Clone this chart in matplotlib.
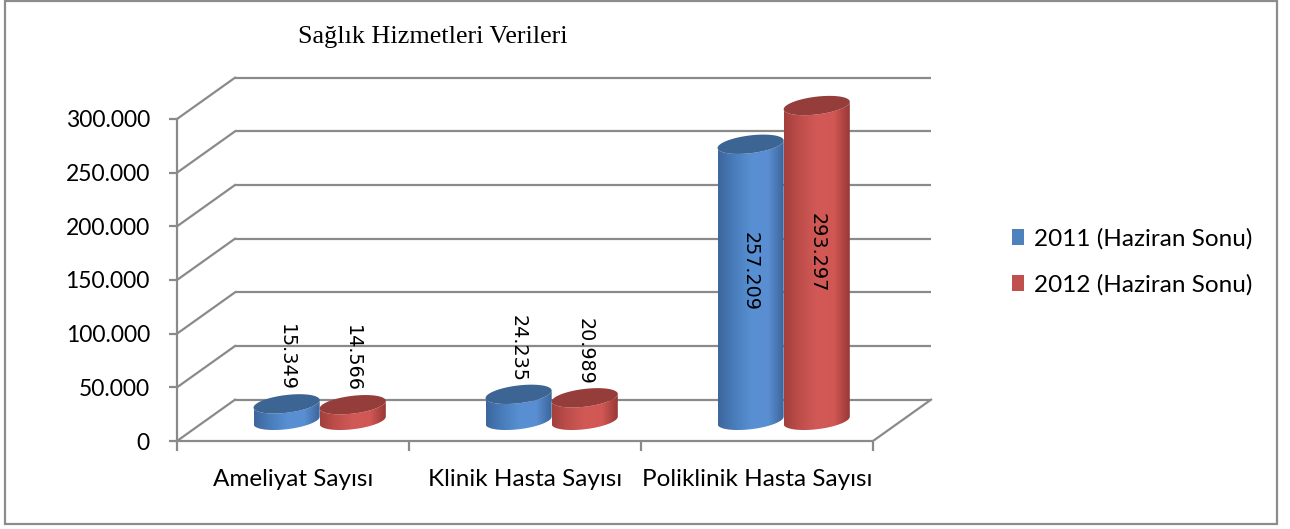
import numpy as np
import matplotlib
matplotlib.use("Agg")
import matplotlib.pyplot as plt
from matplotlib.patches import Polygon, Rectangle, Patch
from matplotlib.colors import LinearSegmentedColormap

# veriler
title = "Sağlık Hizmetleri Verileri"
categories = ["Ameliyat Sayısı", "Klinik Hasta Sayısı", "Poliklinik Hasta Sayısı"]
series_names = ["2011 (Haziran Sonu)", "2012 (Haziran Sonu)"]
values_2011 = [15349, 24235, 257209]
values_2012 = [14566, 20989, 293297]
y_ticks = [0, 50000, 100000, 150000, 200000, 250000, 300000]

# 3B görünüm ayarları
DX = 0.25        # derinlik (kategori birimi)
DY = 38500       # derinlik (değer birimi)
BAR_W = 0.285
ELL_B = 8300
TILT = 3500
BASE = DY / 2
GRID = "#8a8a8a"

blue_cm = LinearSegmentedColormap.from_list("b", ["#3d669c", "#4a7dbc", "#5890d3", "#5a8fd2", "#3a6297"])
red_cm = LinearSegmentedColormap.from_list("r", ["#a33f3c", "#c04f4c", "#d25956", "#d05754", "#943633"])
top_colors = ["#3c6593", "#953d3a"]
legend_colors = ["#4f81bd", "#c0504d"]


def fmt(v):
    return f"{v:,}".replace(",", ".")


def cylinder(ax, xc, val, cmap, top_color, z):
    """Silindir çizer: gövde (degrade) + üst elips"""
    a = BAR_W / 2
    y0, y1 = BASE, BASE + val
    tl = np.linspace(np.pi, 2 * np.pi, 60)
    lx = a * np.cos(tl)
    ly = ELL_B * np.sin(tl) + TILT * np.cos(tl)
    body = np.vstack([np.column_stack([xc + lx, y1 + ly]),
                      np.column_stack([xc + lx[::-1], y0 + ly[::-1]])])
    poly = Polygon(body, closed=True, facecolor="none", edgecolor="none", zorder=z)
    ax.add_patch(poly)
    grad = np.linspace(0, 1, 256)[None, :]
    im = ax.imshow(grad, extent=[xc - a, xc + a, y0 - ELL_B - TILT, y1 + ELL_B + TILT],
                   aspect="auto", cmap=cmap, zorder=z, interpolation="bilinear")
    im.set_clip_path(poly)
    t = np.linspace(0, 2 * np.pi, 120)
    top = np.column_stack([xc + a * np.cos(t), y1 + ELL_B * np.sin(t) + TILT * np.cos(t)])
    ax.add_patch(Polygon(top, closed=True, facecolor=top_color, edgecolor="none", zorder=z + 0.5))


fig = plt.figure(figsize=(12.9, 5.29), dpi=100)
ax = fig.add_axes([177 / 1290, 88 / 529, 3.3 * 232 / 1290, 350000 * 322 / 300000 / 529])
ax.set_xlim(0, 3.3)
ax.set_ylim(0, 350000)
ax.set_autoscale_on(False)

# arka duvar ve zemin
for v in y_ticks:
    ax.plot([DX, 3 + DX], [v + DY, v + DY], color=GRID, lw=1.6, zorder=1, solid_capstyle="butt")
    ax.plot([0, DX], [v, v + DY], color=GRID, lw=1.6, zorder=1)
ax.plot([3, 3 + DX], [0, DY], color=GRID, lw=1.6, zorder=1)

# silindirler
n = len(categories)
for i in range(n):
    xm = i + 0.5 + DX / 2 - 0.01
    for j, vals in enumerate([values_2011, values_2012]):
        xc = xm + (j - 0.5) * BAR_W
        cmap = [blue_cm, red_cm][j]
        cylinder(ax, xc, vals[i], cmap, top_colors[j], 3 + i * 2 + j)
        v = vals[i]
        if v > 100000:
            ax.text(xc, BASE + v / 2 + 10000, fmt(v), rotation=-90, ha="center", va="center",
                    fontsize=13.8, family="DejaVu Sans", zorder=20)
        else:
            ax.text(xc, BASE + v + ELL_B + TILT, fmt(v), rotation=-90, ha="center", va="bottom",
                    fontsize=13.8, family="DejaVu Sans", zorder=20)

# eksenler
for s in ["top", "right"]:
    ax.spines[s].set_visible(False)
ax.spines["left"].set_bounds(0, 300000)
ax.spines["bottom"].set_bounds(0, 3)
for s in ["left", "bottom"]:
    ax.spines[s].set_color(GRID)
    ax.spines[s].set_linewidth(1.6)
    ax.spines[s].set_zorder(2)

ax.set_yticks(y_ticks)
ax.set_yticklabels([fmt(v) for v in y_ticks], family="Lato", fontsize=16.5)
ax.tick_params(axis="y", length=6, width=1.6, color=GRID, pad=13.5)
ax.set_xticks(range(n + 1))
ax.set_xticklabels([])
ax.tick_params(axis="x", which="major", length=7, width=1.6, color=GRID)
ax.set_xticks([i + 0.5 for i in range(n)], minor=True)
ax.set_xticklabels(categories, minor=True, family="Lato", fontsize=17.5)
ax.tick_params(axis="x", which="minor", length=0, pad=20)

fig.text(433 / 1290, 1 - 37 / 529, title, family="Liberation Serif", fontsize=18.8,
         ha="center", va="center")

handles = [Patch(facecolor=c, edgecolor="none") for c in legend_colors]
fig.legend(handles, series_names, loc="center left", bbox_to_anchor=(990 / 1290, 1 - 262 / 529),
           frameon=False, prop={"family": "Lato", "size": 17.5}, handlelength=0.5,
           handleheight=0.65, handletextpad=0.4, labelspacing=1.0)

fig.add_artist(Rectangle((5 / 1290, 5 / 529), 1272 / 1290, 523 / 529, transform=fig.transFigure,
                         fill=False, edgecolor="#8c8c8c", lw=1.6))

fig.savefig("out.png", dpi=100)
